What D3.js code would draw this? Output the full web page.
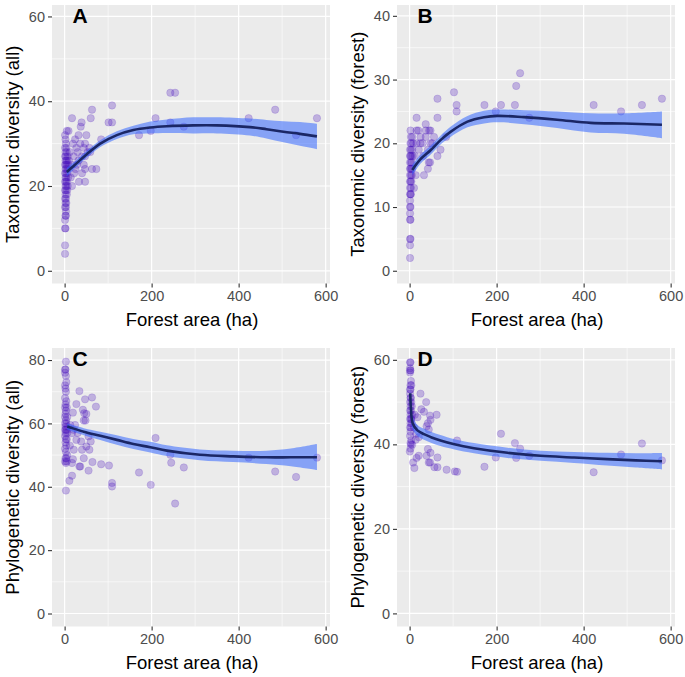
<!DOCTYPE html>
<html>
<head>
<meta charset="utf-8">
<script src="https://cdn.jsdelivr.net/npm/d3@7"></script>
<style>
  html, body { margin: 0; padding: 0; background: #ffffff; }
  svg { display: block; font-family: "Liberation Sans", Arial, sans-serif; }
</style>
</head>
<body>
<svg id="chart" width="685" height="677"></svg>
<script>
// ---------------- DATA ----------------
const panelLetters = ["A", "B", "C", "D"];
const yTitles = ["Taxonomic diversity (all)", "Taxonomic diversity (forest)",
                 "Phylogenetic diversity (all)", "Phylogenetic diversity (forest)"];
const xTitle = "Forest area (ha)";
const xTicks = [0, 200, 400, 600];
const yTicksA = [0, 20, 40, 60];
const yTicksB = [0, 10, 20, 30, 40];
const yTicksC = [0, 20, 40, 60, 80];
const yTicksD = [0, 20, 40, 60];

// Panel A: taxonomic diversity (all)
const areaA = [1,1,1,2,1,3,2,3,1,3,2,4,1,3,2,5,1,3,6,2,4,7,1,3,5,2,4,8,1,3,6,2,4,7,1,3,5,8,2,4,6,1,3,7,2,5,1,4,3,2,1,5,
  17,37,39,63,60,50,32,9,24,19,36,47,44,57,53,59,40,47,32,44,47,63,73,33,47,17,22,40,17,28,21,27,84,12,14,10,30,25,
  101,109,109,171,198,209,243,254,243,274,423,484,532,580];
const taxAll = [4,6,10,10,12,13,13,14,15,15,16,16,17,17,18,18,19,19,19,20,20,20,21,21,21,22,22,22,23,23,23,24,24,24,25,25,25,25,26,26,26,27,27,27,28,28,29,29,30,31,32,33,
  36,34,35,38,36,32,32,33,31,30,30,30,29,29,28,28,27,27,26,25,24,24,24,21,21,20,23,23,25,25,27,29,31,28,22,26,28,24,
  35,35,39,32,33,36,42,42,35,34,36,38,32,36];

// Panel B: taxonomic diversity (forest)
const areaB = [1,1,1,2,1,2,1,1,2,1,1,2,3,1,3,1,2,4,1,3,5,1,2,4,6,1,3,5,1,2,4,7,1,3,6,2,4,8,3,6,2,
  16,16,25,37,37,45,48,37,56,16,25,48,42,21,31,64,71,44,47,42,33,14,10,64,64,20,30,12,52,84,
  102,108,108,172,198,210,242,245,254,275,423,486,534,580];
const taxForest = [2,4,5,5,8,8,9,10,10,11,12,12,12,13,13,14,14,14,15,15,15,16,16,16,16,17,17,17,18,18,18,18,19,19,19,20,20,20,21,21,22,
  24,22,21,23,22,22,22,21,21,20,20,20,19,19,18,18,19,17,17,16,15,15,13,24,27,22,20,18,20,21,
  28,26,25,26,25,26,26,29,31,24,26,25,26,27];

// Panel C: phylogenetic diversity (all)
const areaC = [3,2,1,1,3,4,1,2,3,1,4,2,1,5,3,2,1,6,3,1,4,2,7,1,3,5,2,6,1,3,5,2,4,1,3,6,2,4,1,5,3,3,
  34,63,72,47,27,42,45,50,44,48,19,24,13,17,27,38,55,60,50,57,40,21,44,19,17,34,36,55,64,17,11,84,12,20,30,
  102,109,109,171,198,209,243,245,254,274,423,484,532,580];
const phyloAll = [79.5,77,77,76,75,73,72,71,70,68,67,66,65,65,64,63,62,62,61,60,60,59,59,58,58,58,57,57,56,55,55,54,53,52,51,50,49,49,48,48,47.5,38.8,
  70.2,68.2,65.3,67.6,66.1,64.3,63.2,63,60.9,60.9,63.4,59.5,59.5,56.9,54.8,54.3,55.9,54.3,52.7,51.7,51.7,51.7,49,48.7,47.5,46.4,46.4,45.1,47.8,43.5,41.9,47.1,53,58,57,
  46.7,41.2,40.1,44.5,40.6,55.4,50.1,47.6,34.7,46.1,49.2,44.8,43.1,49.2];

// Panel D: phylogenetic diversity (forest)
const areaD = [2,1,1,2,1,1,3,2,4,1,2,1,3,2,1,4,2,5,1,3,6,2,4,1,3,2,5,1,3,2,1,4,3,2,
  25,38,27,33,62,47,48,42,39,44,18,21,14,42,48,39,64,44,47,57,64,21,8,11,16,6,0.5,2,10,12,15,
  85,104,109,109,172,198,210,242,245,254,275,423,486,534,580];
const phyloForest = [59.4,59.4,58,57.5,57.5,57,55,54,54,53,53,52,51,51,50,50,49,49,48,48,47,47,46,46,46,45,45,44,44,43,42,41,40,39,
  52,50,48.3,47.7,47,46.8,45.8,45,44.3,43.5,46.4,41.7,41.1,38.9,38,37.3,36.9,35.7,35.7,34.6,34.6,37.3,35.7,34.4,36.8,39.9,38.3,40.3,44,47,42.5,
  34.0,33.6,40.9,33.5,34.7,36.9,42.5,40.3,36.8,39,37.3,33.4,37.6,40.2,36.2];

// Smoothed fits with confidence bands
const fitXA = [5, 28, 51, 82, 120, 158, 197, 235, 296, 350, 426, 464, 503, 541, 580];
const fitA  = [23.3, 25.4, 27.5, 30.0, 32.0, 33.2, 33.8, 34.1, 34.3, 34.3, 33.9, 33.4, 32.8, 32.3, 31.7];
const loA   = [22.3, 24.6, 26.7, 29.2, 31.1, 32.2, 32.4, 32.5, 32.4, 32.4, 31.9, 31.2, 30.3, 29.5, 28.7];
const hiA   = [24.3, 26.2, 28.3, 30.8, 32.9, 34.2, 35.2, 35.7, 36.2, 36.2, 35.9, 35.6, 35.3, 35.1, 34.7];

const fitXB = [6, 25, 48, 71, 94, 133, 171, 202, 263, 339, 416, 493, 580];
const fitB  = [15.8, 17.5, 18.9, 20.5, 21.8, 23.4, 24.1, 24.3, 24.1, 23.7, 23.2, 23.1, 22.9];
const loB   = [15.0, 16.8, 18.2, 19.8, 21.0, 22.5, 23.1, 23.3, 23.0, 22.4, 21.7, 21.5, 20.8];
const hiB   = [16.6, 18.2, 19.6, 21.2, 22.6, 24.3, 25.1, 25.3, 25.2, 25.0, 24.7, 24.7, 25.0];

const fitXC = [6, 13, 44, 82, 120, 158, 197, 235, 311, 388, 464, 520, 580];
const fitC  = [59.0, 58.7, 57.4, 56.1, 54.8, 53.5, 52.5, 51.4, 50.1, 49.6, 49.3, 49.3, 49.3];
const loC   = [58.0, 57.7, 56.3, 54.8, 53.3, 51.9, 50.8, 49.7, 48.4, 47.8, 47.2, 46.5, 45.3];
const hiC   = [60.0, 59.7, 58.5, 57.4, 56.3, 55.1, 54.2, 53.1, 51.8, 51.4, 51.4, 52.1, 53.5];

const fitXD = [1.5, 3, 7, 18, 33, 49, 71, 103, 148, 225, 301, 378, 454, 520, 580];
const fitD  = [52.1, 48.5, 45.0, 43.3, 42.4, 41.7, 40.9, 40.0, 39.1, 38.0, 37.3, 36.9, 36.5, 36.2, 36.0];
const loD   = [49.6, 46.5, 43.5, 42.0, 41.1, 40.4, 39.6, 38.8, 37.9, 36.8, 36.1, 35.6, 35.0, 34.5, 34.05];
const hiD   = [54.6, 50.5, 46.5, 44.6, 43.7, 43.0, 42.2, 41.2, 40.3, 39.2, 38.5, 38.2, 38.0, 37.9, 37.95];

// ---------------- LAYOUT ----------------
const panels = [
  { letter: panelLetters[0], title: yTitles[0], xs: areaA, ys: taxAll, fx: fitXA, fy: fitA, lo: loA, hi: hiA,
    yTicks: yTicksA, yDom: [-3, 62.7], left: 52, top: 5 },
  { letter: panelLetters[1], title: yTitles[1], xs: areaB, ys: taxForest, fx: fitXB, fy: fitB, lo: loB, hi: hiB,
    yTicks: yTicksB, yDom: [-2, 41.7], left: 397, top: 5 },
  { letter: panelLetters[2], title: yTitles[2], xs: areaC, ys: phyloAll, fx: fitXC, fy: fitC, lo: loC, hi: hiC,
    yTicks: yTicksC, yDom: [-4.1, 83.8], left: 52, top: 348 },
  { letter: panelLetters[3], title: yTitles[3], xs: areaD, ys: phyloForest, fx: fitXD, fy: fitD, lo: loD, hi: hiD,
    yTicks: yTicksD, yDom: [-3.1, 62.8], left: 397, top: 348 }
];
const PW = 278, PH = 278.5;
const xDom = [-29, 610];
const curve = d3.curveCatmullRom.alpha(0.5);

const svg = d3.select("#chart");

panels.forEach(p => {
  const g = svg.append("g").attr("transform", `translate(${p.left},${p.top})`);
  const x = d3.scaleLinear().domain(xDom).range([0, PW]);
  const y = d3.scaleLinear().domain(p.yDom).range([PH, 0]);

  // background
  g.append("rect").attr("width", PW).attr("height", PH).attr("fill", "#EBEBEB");

  // minor gridlines
  const xMinor = [100, 300, 500];
  const step = p.yTicks[1] - p.yTicks[0];
  const yMinor = p.yTicks.slice(0, -1).map(v => v + step / 2)
    .filter(v => v > p.yDom[0] && v < p.yDom[1]);
  g.selectAll(".xmin").data(xMinor).join("line")
    .attr("x1", d => x(d)).attr("x2", d => x(d)).attr("y1", 0).attr("y2", PH)
    .attr("stroke", "#ffffff").attr("stroke-width", 0.6);
  g.selectAll(".ymin").data(yMinor).join("line")
    .attr("y1", d => y(d)).attr("y2", d => y(d)).attr("x1", 0).attr("x2", PW)
    .attr("stroke", "#ffffff").attr("stroke-width", 0.6);
  // major gridlines
  g.selectAll(".xmaj").data(xTicks).join("line")
    .attr("x1", d => x(d)).attr("x2", d => x(d)).attr("y1", 0).attr("y2", PH)
    .attr("stroke", "#ffffff").attr("stroke-width", 1.2);
  g.selectAll(".ymaj").data(p.yTicks).join("line")
    .attr("y1", d => y(d)).attr("y2", d => y(d)).attr("x1", 0).attr("x2", PW)
    .attr("stroke", "#ffffff").attr("stroke-width", 1.2);

  // points
  const pts = p.xs.map((v, i) => [v, p.ys[i]]);
  g.append("g").selectAll("circle").data(pts).join("circle")
    .attr("cx", d => x(d[0])).attr("cy", d => y(d[1])).attr("r", 3.7)
    .attr("fill", "#4a12bc").attr("fill-opacity", 0.27)
    .attr("stroke", "#4a12bc").attr("stroke-opacity", 0.22).attr("stroke-width", 0.7);

  // ribbon
  const band = p.fx.map((v, i) => ({ x: v, lo: p.lo[i], hi: p.hi[i], f: p.fy[i] }));
  const area = d3.area().x(d => x(d.x)).y0(d => y(d.lo)).y1(d => y(d.hi)).curve(curve);
  g.append("path").datum(band).attr("d", area)
    .attr("fill", "#3366ff").attr("fill-opacity", 0.55);
  const line = d3.line().x(d => x(d.x)).y(d => y(d.f)).curve(curve);
  g.append("path").datum(band).attr("d", line)
    .attr("fill", "none").attr("stroke", "#1b2766").attr("stroke-width", 2.6)
    .attr("stroke-linecap", "butt");

  // axes
  const xAxis = d3.axisBottom(x).tickValues(xTicks).tickSize(4).tickPadding(3);
  const gx = g.append("g").attr("transform", `translate(0,${PH})`).call(xAxis);
  gx.select(".domain").remove();
  gx.selectAll(".tick line").attr("stroke", "#333333").attr("stroke-width", 1.1);
  gx.selectAll(".tick text").attr("fill", "#4d4d4d").attr("font-size", "14.5px")
    .attr("font-family", "Liberation Sans, Arial, sans-serif");

  const yAxis = d3.axisLeft(y).tickValues(p.yTicks).tickSize(4).tickPadding(3);
  const gy = g.append("g").call(yAxis);
  gy.select(".domain").remove();
  gy.selectAll(".tick line").attr("stroke", "#333333").attr("stroke-width", 1.1);
  gy.selectAll(".tick text").attr("fill", "#4d4d4d").attr("font-size", "14.5px")
    .attr("font-family", "Liberation Sans, Arial, sans-serif");

  // axis titles
  g.append("text").attr("x", PW / 2 + 1).attr("y", PH + 42)
    .attr("text-anchor", "middle").attr("font-size", "18.5px").attr("fill", "#000")
    .text(xTitle);
  g.append("text")
    .attr("transform", `translate(-33.5,${PH / 2}) rotate(-90)`)
    .attr("text-anchor", "middle").attr("font-size", "18.5px").attr("fill", "#000")
    .text(p.title);

  // panel letter
  g.append("text").attr("x", 20.5).attr("y", 17.5)
    .attr("font-size", "21px").attr("font-weight", "bold").attr("fill", "#000")
    .text(p.letter);
});
</script>
</body>
</html>
